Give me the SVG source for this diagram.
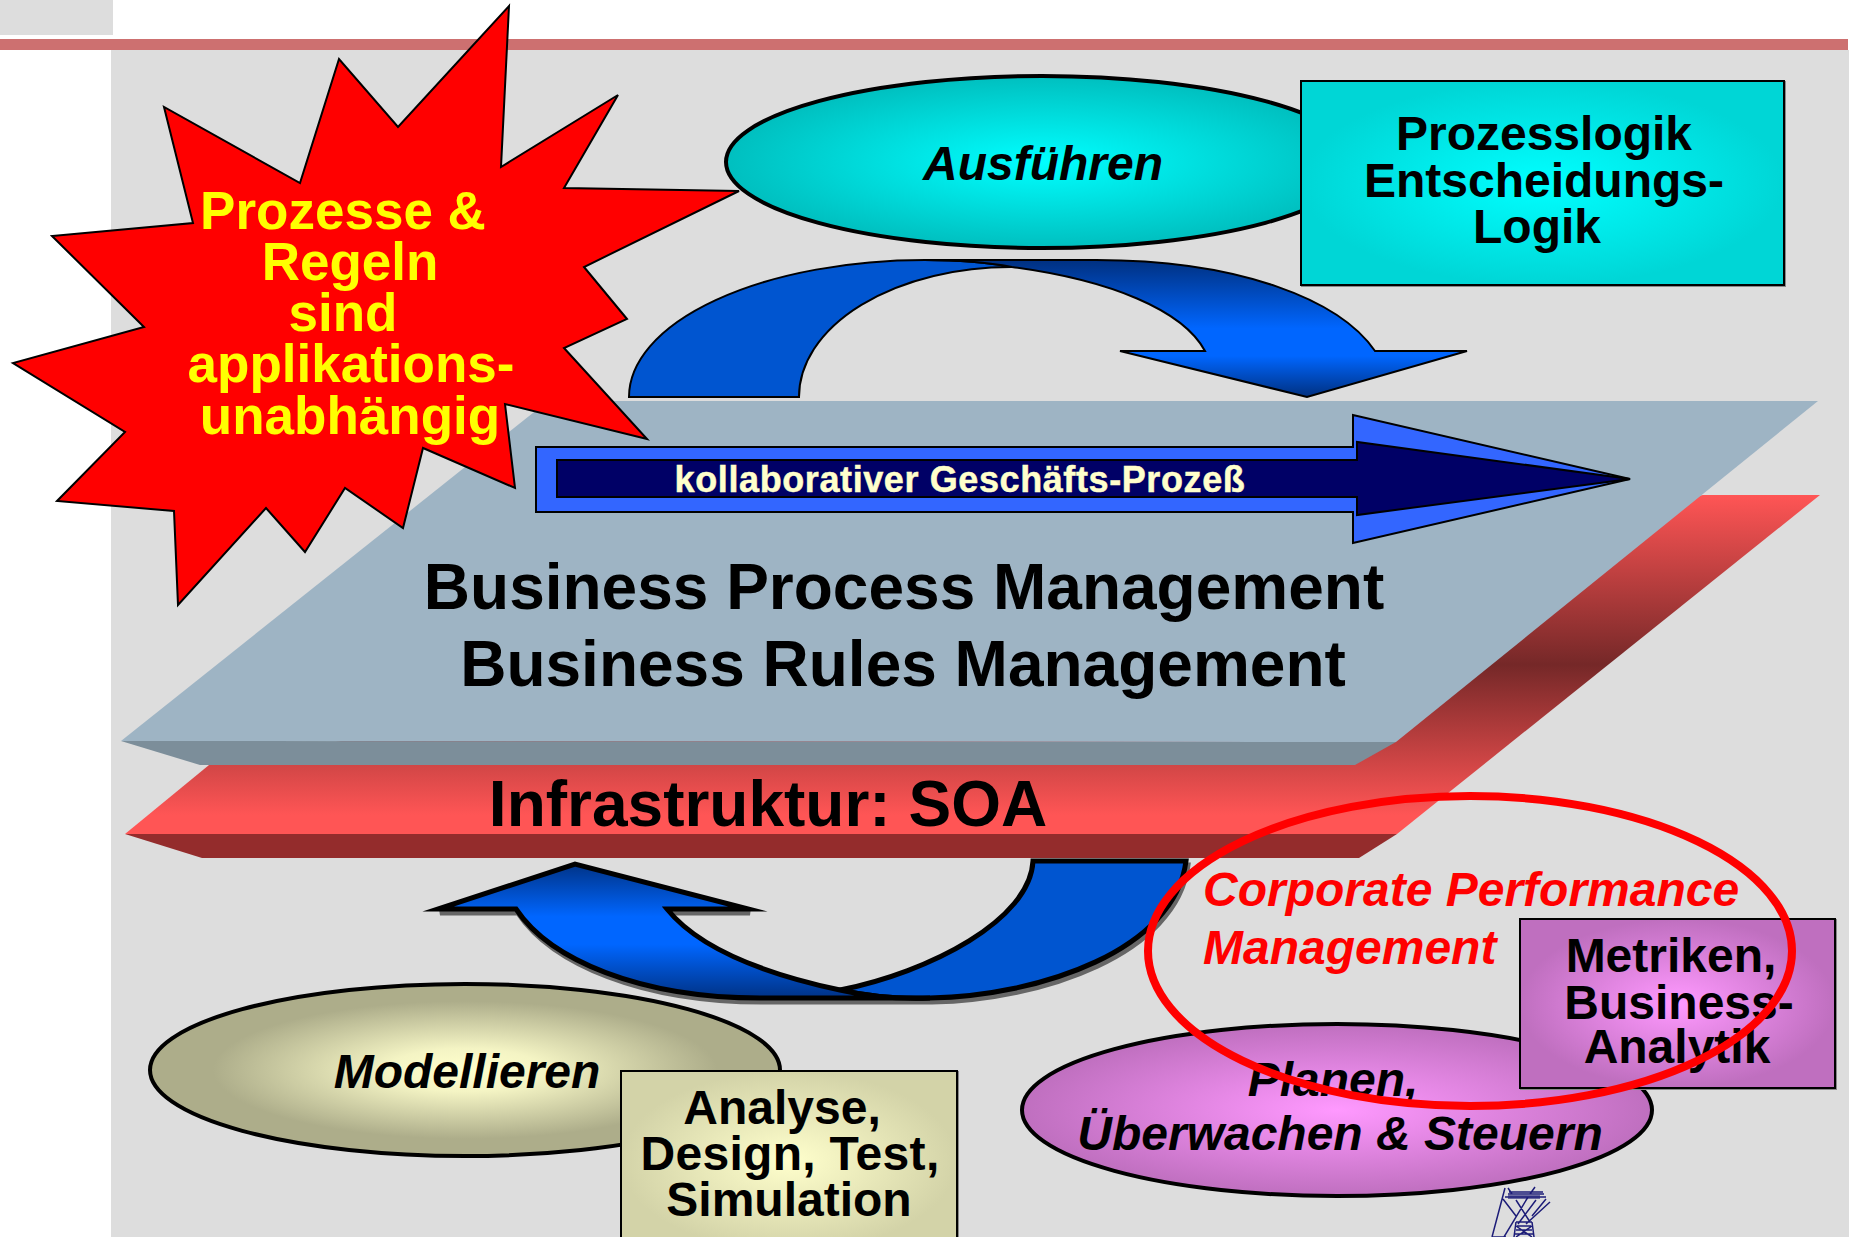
<svg xmlns="http://www.w3.org/2000/svg" width="1851" height="1237" viewBox="0 0 1851 1237">
<style>
text{font-family:"Liberation Sans",Arial,sans-serif;font-weight:700;font-size:48px;text-anchor:middle;fill:#000}
.i{font-style:italic}
.b{font-size:64px}
.y{fill:#ff0;font-size:53px}
.r{fill:#f00;text-anchor:start}
.e{stroke:#000;stroke-width:4}
.x{stroke:#000;stroke-width:2}
.s{filter:drop-shadow(1px 1px 0 #888)}
.a{stroke:#000;stroke-width:5;stroke-linejoin:miter;stroke-miterlimit:10}
.p{fill:none;stroke:#1c1c78;stroke-width:1.5}
</style>
<defs>
<radialGradient id="gc"><stop offset="0" stop-color="#0ff"/><stop offset="1" stop-color="#00bfbf"/></radialGradient>
<radialGradient id="gc2"><stop offset="0" stop-color="#0ff"/><stop offset="1" stop-color="#00d6d6"/></radialGradient>
<radialGradient id="gy"><stop offset="0" stop-color="#ffffcc"/><stop offset=".25" stop-color="#f4f4c4"/><stop offset=".8" stop-color="#adad8a"/></radialGradient>
<radialGradient id="gy2"><stop offset="0" stop-color="#ffffcc"/><stop offset="1" stop-color="#d3d3a8"/></radialGradient>
<radialGradient id="gm"><stop offset="0" stop-color="#f9f"/><stop offset="1" stop-color="#bf6fbf"/></radialGradient>
<linearGradient id="gr" gradientUnits="userSpaceOnUse" x1="0" y1="495" x2="0" y2="815"><stop offset="0" stop-color="#ff5555"/><stop offset=".53" stop-color="#752828"/><stop offset="1" stop-color="#ff5555"/></linearGradient>
<linearGradient id="gb" gradientUnits="userSpaceOnUse" x1="0" y1="260" x2="0" y2="397"><stop offset="0" stop-color="#003080"/><stop offset=".5" stop-color="#06f"/><stop offset=".7" stop-color="#06f"/><stop offset="1" stop-color="#003080"/></linearGradient>
<linearGradient id="gb2" gradientUnits="userSpaceOnUse" x1="0" y1="861" x2="0" y2="1000"><stop offset="0" stop-color="#003080"/><stop offset=".4" stop-color="#06f"/><stop offset=".6" stop-color="#06f"/><stop offset="1" stop-color="#003080"/></linearGradient>
</defs>
<rect width="1851" height="1237" fill="#fff"/>
<rect x="0" y="0" width="113" height="35" fill="#ddd"/>
<rect x="111" y="50" width="1738" height="1187" fill="#ddd"/>
<rect x="0" y="39" width="1848" height="11" fill="#cd7070"/>

<g id="layer-infrastruktur">
<polygon points="125,834 209,765 1703,495 1820,495 1397,834" fill="url(#gr)"/>
<polygon points="125,834 202,858 1359,858 1397,834" fill="#942c2c"/>
<text class="b" x="768" y="826">Infrastruktur: SOA</text>
</g>
<g id="layer-bpm">
<polygon points="121,741 548,401 1818,401 1396,742" fill="#9eb4c4"/>
<polygon points="121,741 200,765 1355,765 1396,742" fill="#7c8e9a"/>
<text class="b" x="904" y="609">Business Process Management</text>
<text class="b" x="903" y="686">Business Rules Management</text>
</g>

<g id="connectors">
<path class="x" fill="#0055d0" d="M629 397A296 137 0 0 1 925 260Q975 260 1012 267A212 130 0 0 0 799 397Z"/>
<path class="x" fill="url(#gb)" d="M925 260H1096C1240 260 1340 300 1375 351H1467L1307 397L1120 351H1205C1183 310 1110 280 1012 267Q975 260 925 260Z"/>
<path transform="translate(2,4)" fill="#666" stroke="#666" stroke-width="5" d="M1186 861C1175 950 1040 996 930 998H760C640 998 550 960 516 909H438L575 864L748 909H667C700 950 770 975 840 990C930 972 1030 920 1033 861Z"/>
<path class="a" fill="#0055d0" d="M1186 861H1033C1030 920 930 972 840 990C870 997 900 999 930 998C1040 996 1175 950 1186 861Z"/>
<path class="a" fill="url(#gb2)" d="M840 990C770 975 700 950 667 909H748L575 864L438 909H516C550 960 640 998 760 998H930C900 999 870 997 840 990Z"/>
<path class="x" stroke-width="2.5" fill="#36f" d="M536 447H1353V415L1630 479L1353 543V512H536Z"/>
<path class="x" stroke-width="3" fill="#006" d="M557 460H1357V442L1630 479L1357 515V497H557Z"/>
<text x="960" y="492" style="fill:#ffc;font-size:36px;letter-spacing:.6px;stroke:#ffc;stroke-width:.5px">kollaborativer Geschäfts-Prozeß</text>
</g>

<g id="star">
<polygon class="x" fill="#f00" points="509,6 501,167 618,95 564,188 739,191 584,267 627,319 564,348 647,439 505,404 515,488 423,448 403,528 345,488 305,552 266,508 178,605 174,511 57,501 125,432 13,363 144,327 52,236 193,223 164,107 300,183 339,59 398,127"/>
<text class="y" x="343" y="229">Prozesse &amp;</text>
<text class="y" x="350" y="280">Regeln</text>
<text class="y" x="343" y="331">sind</text>
<text class="y" x="351" y="382">applikations-</text>
<text class="y" x="350" y="434">unabhängig</text>
</g>

<g id="ausfuehren">
<ellipse class="e" cx="1042" cy="162" rx="316" ry="86" fill="url(#gc)"/>
<text class="i" x="1043" y="180">Ausführen</text>
</g>
<g id="prozesslogik">
<rect class="x s" x="1301" y="81" width="483" height="204" fill="url(#gc2)"/>
<text x="1544" y="150">Prozesslogik</text>
<text x="1544" y="197">Entscheidungs-</text>
<text x="1537" y="243">Logik</text>
</g>
<g id="modellieren">
<ellipse class="e" cx="465" cy="1070" rx="315" ry="86" fill="url(#gy)"/>
<text class="i" x="467" y="1088">Modellieren</text>
</g>
<g id="analyse">
<rect class="x s" x="621" y="1071" width="336" height="180" fill="url(#gy2)"/>
<text x="782" y="1124">Analyse,</text>
<text x="790" y="1170" style="letter-spacing:.3px">Design, Test,</text>
<text x="789" y="1216">Simulation</text>
</g>
<g id="planen">
<ellipse class="e" cx="1337" cy="1110" rx="315" ry="86" fill="url(#gm)"/>
<text class="i" x="1333" y="1096">Planen,</text>
<text class="i" x="1340" y="1150">Überwachen &amp; Steuern</text>
</g>
<g id="metriken">
<rect class="x s" x="1520" y="919" width="315" height="169" fill="url(#gm)"/>
<text x="1671" y="972">Metriken,</text>
<text x="1679" y="1019">Business-</text>
<text x="1677" y="1063">Analytik</text>
</g>
<g id="cpm">
<text class="i r" x="1203" y="906">Corporate Performance</text>
<text class="i r" x="1203" y="964">Management</text>
<ellipse cx="1470" cy="951" rx="322" ry="155" fill="none" stroke="#f00" stroke-width="8"/>
</g>
<g id="pylon">
<path class="p" d="M1505 1188L1492 1237M1505 1197H1546M1508 1194H1544M1509 1192H1543M1508 1188L1512 1194M1535 1187L1530 1194M1503 1199L1516 1216M1546 1199L1532 1216M1528 1197L1504 1237M1550 1202L1526 1224M1516 1200L1530 1222M1536 1200L1518 1224M1516 1222H1532M1517 1226H1531M1516 1230H1532M1515 1234H1533M1516 1222L1514 1237M1532 1222L1534 1237M1516 1226L1532 1237M1532 1226L1516 1237M1492 1237H1506"/>
<rect x="1508" y="1195" width="32" height="4" fill="#1c1c78" opacity=".6"/>
</g>
</svg>
